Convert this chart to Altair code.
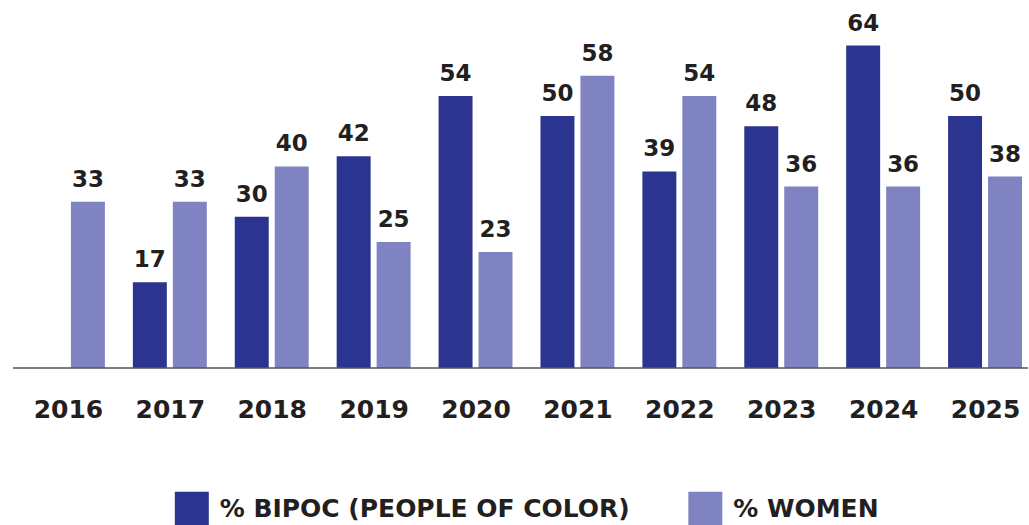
import altair as alt
import pandas as pd

years = ["2016", "2017", "2018", "2019", "2020", "2021", "2022", "2023", "2024", "2025"]
bipoc = [None, 17, 30, 42, 54, 50, 39, 48, 64, 50]
women = [33, 33, 40, 25, 23, 58, 54, 36, 36, 38]
series = ["% BIPOC (PEOPLE OF COLOR)", "% WOMEN"]
colors = ["#2B3590", "#7F83C1"]

rows = []
for i, (yr, b, w) in enumerate(zip(years, bipoc, women)):
    if b is not None:
        rows.append({"idx": i, "year": yr, "series": series[0], "value": b})
    rows.append({"idx": i, "year": yr, "series": series[1], "value": w})
df = pd.DataFrame(rows)

FONT = "DejaVu Sans"
TXT = "#231F20"
STEP = 102.0
W = 1029
D0 = -68 / STEP
D1 = D0 + W / STEP
OFF = 20 / STEP

year_expr = "[" + ",".join(f"'{y}'" for y in years) + "][datum.value]"

x = alt.X("pos:Q",
          scale=alt.Scale(domain=[D0, D1], nice=False, zero=False, padding=0),
          axis=alt.Axis(title=None, values=list(range(len(years))), labelExpr=year_expr,
                        grid=False, ticks=False, tickSize=0, domain=False,
                        labelPadding=30, labelFontSize=25, labelFont=FONT,
                        labelFontWeight="bold", labelColor=TXT, labelFlush=False,
                        labelOverlap=False))
y = alt.Y("value:Q", scale=alt.Scale(domain=[0, 72], nice=False, padding=0), axis=None)

base = alt.Chart(df).transform_calculate(
    pos=f"datum.idx + (datum.series == '{series[0]}' ? {-OFF} : {OFF})"
)

bars = base.mark_bar(width=34).encode(
    x=x, y=y,
    color=alt.Color("series:N", sort=series,
                    scale=alt.Scale(domain=series, range=colors),
                    legend=alt.Legend(title=None, orient="none", legendX=175, legendY=487,
                                      direction="horizontal", symbolType="square",
                                      symbolSize=1156, symbolStrokeWidth=0,
                                      labelFontSize=25, labelFont=FONT,
                                      labelFontWeight="bold", labelColor=TXT,
                                      labelOffset=11, columnPadding=58, labelLimit=600)),
)

labels = base.mark_text(
    baseline="alphabetic", dy=-15, fontSize=23, font=FONT, fontWeight="bold",
    color=TXT
).encode(x=x, y=y, text=alt.Text("value:Q"))

baseline = alt.Chart(pd.DataFrame({"v": [0]})).mark_rule(
    color="#555555", strokeWidth=1.5
).encode(y="v:Q", x=alt.value(13), x2=alt.value(W))

chart = (bars + labels + baseline).properties(
    width=W, height=363,
    padding={"left": 0, "top": 5, "right": 0, "bottom": 0},
).configure(background="white").configure_view(strokeWidth=0)

chart.save("out.html", embed_options={"renderer": "svg", "actions": False})
